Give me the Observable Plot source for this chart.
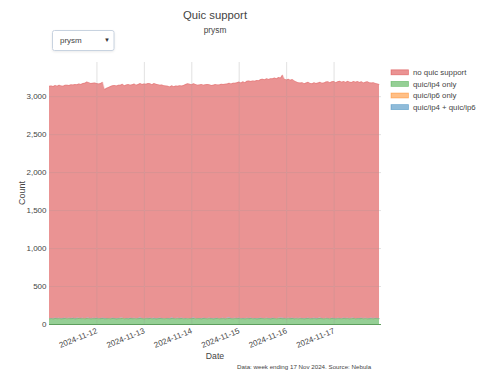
<!DOCTYPE html>
<html>
<head>
<meta charset="utf-8">
<script src="https://cdn.jsdelivr.net/npm/d3@7"></script>
<script src="https://cdn.jsdelivr.net/npm/@observablehq/plot@0.6"></script>
<style>
  html, body { margin: 0; padding: 0; background: #fff; }
  #wrap { position: relative; width: 489px; height: 375px; }
  #wrap svg { position: absolute; left: 0; top: 0; }
</style>
</head>
<body>
<div id="wrap"></div>
<script>
// Hourly samples starting 2024-11-11 00:00 UTC
const startDate = "2024-11-11T00:00:00Z";
const titleText = "Quic support";
const subtitleText = "prysm";
const dropdownText = "prysm";
const captionText = "Data: week ending 17 Nov 2024. Source: Nebula";
const xAxisTitle = "Date";
const yAxisTitle = "Count";
const seriesNames = ["no quic support", "quic/ip4 only", "quic/ip6 only", "quic/ip4 + quic/ip6"];
const seriesColors = ["#d62728", "#2ca02c", "#ff7f0e", "#1f77b4"];
const stackOrder = ["quic/ip4 only", "quic/ip6 only", "quic/ip4 + quic/ip6", "no quic support"];
const yTicks = [0, 500, 1000, 1500, 2000, 2500, 3000];
const xTickLabels = ["2024-11-12", "2024-11-13", "2024-11-14", "2024-11-15", "2024-11-16", "2024-11-17"];

const noQuic = [
  3058,3062,3055,3066,3060,3070,3064,3058,
  3068,3072,3065,3078,3070,3082,3076,3085,3080,
  3092,3100,3112,3104,3096,3094,3100,
  3090,3088,3095,3108,
  3015,3030,3042,3055,3060,3068,3064,3072,
  3070,3078,3066,3075,3082,3070,3078,3085,3074,3080,3088,3082,
  3090,3084,3095,3088,3080,3092,3086,3078,3070,3074,3066,3060,
  3058,3052,3060,3050,3062,3056,3066,3058,3070,3080,3092,3085,
  3078,3086,3080,3072,3076,3084,3070,3078,3082,3074,3068,3076,3080,3072,3078,3085,3080,3088,
  3086,3094,3088,3100,3095,3104,3110,3102,3115,3108,3120,3126,3118,3130,3124,
  3138,3130,3145,3150,3142,3155,3148,3160,3152,3165,3158,3170,3162,
  3205,3150,3142,3148,3138,3144,3130,
  3112,3104,3098,3106,3094,3100,3108,3096,3090,3102,3094,3100,3106,3098,3104,
  3110,3118,3106,3114,3120,3108,3116,3124,3112,3118,3110,3122,3114,3106,3118,3112,3120,3108,3114,3102,3110,3118,3104,3098,3106,3092,3088,3080
];
const ip4Only = [
  74,76,73,78,75,77,72,76,79,74,77,75,78,73,76,80,75,77,74,78,76,73,77,75,
  78,74,76,79,73,75,77,74,78,76,72,75,77,79,74,76,73,78,75,77,74,76,79,75,
  73,77,75,78,74,76,72,75,78,76,74,77,75,73,79,76,74,77,75,78,73,76,74,77,
  76,79,74,77,75,73,78,76,74,77,75,72,76,78,74,75,77,73,76,79,75,74,77,76,
  78,74,76,73,77,75,79,74,76,72,75,78,76,74,77,75,73,78,76,74,77,79,75,76,
  74,77,75,78,73,76,74,77,75,72,76,78,74,75,77,73,76,79,75,74,77,76,74,78,
  75,73,77,76,74,78,75,77,73,76,79,74,76,75,78,74,77,73,75,76,74,78,76,75
];
const ip6Only = [
  1,1,2,1,1,2,1,1,1,2,1,1,2,1,1,1,2,1,1,1,2,1,1,1,
  1,2,1,1,1,2,1,1,2,1,1,1,1,2,1,1,1,2,1,1,2,1,1,1,
  2,1,1,1,2,1,1,2,1,1,1,1,2,1,1,1,2,1,1,1,2,1,1,1,
  1,1,2,1,1,1,2,1,1,2,1,1,1,2,1,1,1,1,2,1,1,1,2,1,
  1,2,1,1,1,2,1,1,1,1,2,1,1,2,1,1,1,2,1,1,1,1,2,1,
  2,1,1,1,1,2,1,1,2,1,1,1,2,1,1,1,1,2,1,1,2,1,1,1,
  1,1,2,1,1,2,1,1,1,2,1,1,1,1,2,1,1,2,1,1,1,2,1,1
];
const ip4AndIp6 = [
  3,2,3,3,2,3,4,3,2,3,3,2,3,3,4,2,3,3,2,3,3,2,4,3,
  3,3,2,3,4,3,2,3,3,2,3,3,3,4,2,3,3,2,3,3,2,3,4,3,
  2,3,3,3,2,4,3,3,2,3,3,2,3,3,4,3,2,3,3,2,3,3,3,2,
  3,4,3,2,3,3,2,3,3,3,4,2,3,3,2,3,3,2,3,4,3,3,2,3,
  3,2,3,3,4,2,3,3,2,3,3,3,2,4,3,3,2,3,3,2,3,3,4,3,
  2,3,3,2,3,4,3,3,2,3,3,2,3,3,3,4,2,3,3,2,3,3,2,3,
  4,3,3,2,3,3,2,3,3,4,3,2,3,3,2,3,3,3,2,4,3,3,2,3
];

const t0 = new Date(startDate);
const valuesBySeries = {
  "no quic support": noQuic,
  "quic/ip4 only": ip4Only,
  "quic/ip6 only": ip6Only,
  "quic/ip4 + quic/ip6": ip4AndIp6
};
const rows = [];
for (const s of seriesNames) {
  valuesBySeries[s].forEach((v, i) => rows.push({date: d3.utcHour.offset(t0, i), series: s, count: v}));
}
const xTicks = xTickLabels.map(d => new Date(d + "T00:00:00Z"));
const FONT = '"Liberation Sans", Arial, sans-serif';

const chart = Plot.plot({
  width: 489,
  height: 375,
  marginLeft: 49,
  marginRight: 108,
  marginTop: 62,
  marginBottom: 51,
  style: {fontFamily: FONT, fontSize: "8px", color: "#444", background: "#fff"},
  x: {type: "utc", domain: [t0, new Date("2024-11-18T00:00:00Z")], label: null},
  y: {domain: [0, 3450], label: null},
  color: {domain: seriesNames, range: seriesColors},
  marks: [
    Plot.gridX(xTicks, {stroke: "#eeeeee", strokeOpacity: 1}),
    Plot.gridY(yTicks, {stroke: "#eeeeee", strokeOpacity: 1}),
    Plot.areaY(rows, {x: "date", y: "count", fill: "series", fillOpacity: 0.5, order: stackOrder, curve: "linear"}),
    Plot.lineY(rows, Plot.stackY2({x: "date", y: "count", z: "series", stroke: "series", strokeWidth: 0.5, strokeOpacity: 0.3, order: stackOrder})),
    Plot.gridX(xTicks, {stroke: "#bbb", strokeOpacity: 0.2}),
    Plot.gridY(yTicks, {stroke: "#bbb", strokeOpacity: 0.2}),
    Plot.ruleY([0], {stroke: "#5e9e5e", strokeWidth: 1.2}),
    Plot.axisX(xTicks, {tickFormat: d3.utcFormat("%Y-%m-%d"), tickRotate: -22, tickSize: 0, tickPadding: 2, dy: 4, label: null}),
    Plot.axisY(yTicks, {tickFormat: d3.format(","), tickSize: 0, tickPadding: 3, label: null})
  ]
});
document.getElementById("wrap").appendChild(chart);

const svg = d3.select(chart);
function addText(x, y, size, txt, anchor = "middle", rotate = 0) {
  const t = svg.append("text")
    .attr("transform", `translate(${x},${y})` + (rotate ? ` rotate(${rotate})` : ""))
    .attr("text-anchor", anchor).attr("dy", "0.35em")
    .attr("fill", "#444").style("font-family", FONT).style("font-size", size + "px").text(txt);
  return t;
}
// titles
addText(215, 15, 11.3, titleText);
addText(215, 30, 8.3, subtitleText);
addText(22, 193, 9, yAxisTitle, "middle", -90);
addText(215, 355.5, 8.7, xAxisTitle);
addText(237, 367, 6.2, captionText, "start");

// dropdown
svg.append("rect").attr("x", 52.5).attr("y", 30.5).attr("width", 61.5).attr("height", 20)
  .attr("rx", 2).attr("fill", "#fff").attr("stroke", "#c8d3e0").attr("stroke-width", 1)
  .style("filter", "drop-shadow(0 1px 1px rgba(0,0,0,0.08))");
addText(60, 40.5, 8, dropdownText, "start");
addText(107, 39.5, 6, "▼", "middle").attr("fill", "#333");

// legend
seriesNames.forEach((s, i) => {
  const cy = 72.3 + i * 11.6;
  svg.append("rect").attr("x", 391).attr("y", cy - 2.5).attr("width", 17.5).attr("height", 5)
    .attr("fill", seriesColors[i]).attr("fill-opacity", 0.5)
    .attr("stroke", seriesColors[i]).attr("stroke-opacity", 0.45).attr("stroke-width", 0.8);
  addText(413, cy, 7.8, s, "start");
});
</script>
</body>
</html>
